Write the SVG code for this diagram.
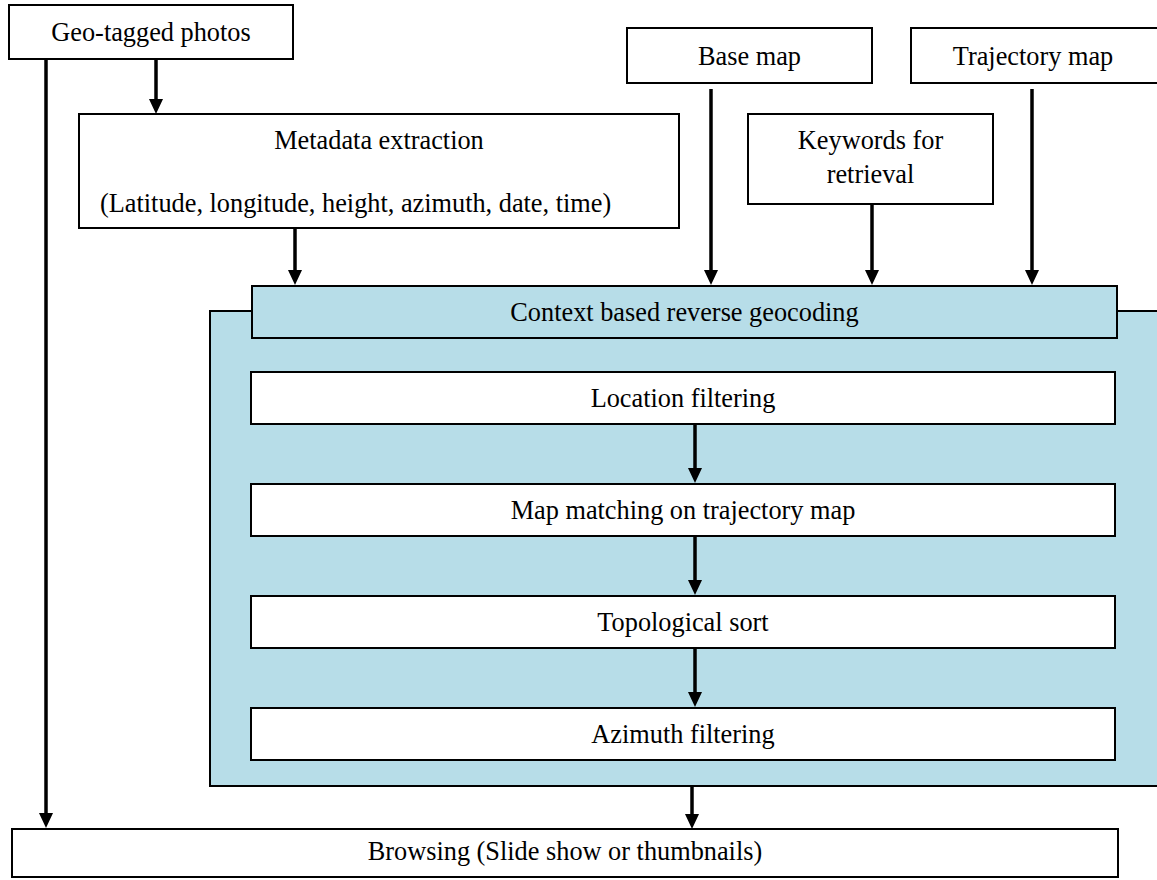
<svg xmlns="http://www.w3.org/2000/svg" width="1157" height="880" viewBox="0 0 1157 880">
<style>
.box{fill:#ffffff;stroke:#000000;stroke-width:2}
.blue{fill:#B7DDE8;stroke:#000000;stroke-width:2}
.t{font-family:"Liberation Serif","Times New Roman",serif;font-size:26.3px;fill:#000000;text-anchor:middle}
.c{stroke:#000000;stroke-width:3.5;fill:none;marker-end:url(#ah)}
</style>
<defs>
<marker id="ah" markerUnits="userSpaceOnUse" viewBox="0 0 15 14" refX="0" refY="7" markerWidth="15" markerHeight="14" orient="auto">
<path d="M0,0 L15,7 L0,14 Z" fill="#000000"/>
</marker>
</defs>
<rect width="1157" height="880" fill="#ffffff"/>
<g id="geo-tagged-photos"><rect class="box" x="9" y="5" width="284" height="54"/><text class="t" x="151" y="41">Geo-tagged photos</text></g>
<g id="base-map"><rect class="box" x="627" y="28" width="245" height="55"/><text class="t" x="749.5" y="65">Base map</text></g>
<g id="trajectory-map"><rect class="box" x="911" y="28" width="250" height="55"/><text class="t" x="1033" y="65">Trajectory map</text></g>
<g id="metadata-extraction"><rect class="box" x="79" y="114" width="600" height="114"/><text class="t" x="379" y="149">Metadata extraction</text><text class="t" x="100" y="212" style="text-anchor:start">(Latitude, longitude, height, azimuth, date, time)</text></g>
<g id="keywords"><rect class="box" x="748" y="114" width="245" height="90"/><text class="t" x="870.5" y="149">Keywords for</text><text class="t" x="870.5" y="183">retrieval</text></g>
<g id="context-container"><rect class="blue" x="210" y="311" width="960" height="475"/></g>
<g id="context-header"><rect class="blue" x="252" y="286" width="865" height="52"/><text class="t" x="684.5" y="321">Context based reverse geocoding</text></g>
<g id="location-filtering"><rect class="box" x="251" y="372" width="864" height="52"/><text class="t" x="683" y="407">Location filtering</text></g>
<g id="map-matching"><rect class="box" x="251" y="484" width="864" height="52"/><text class="t" x="683" y="519">Map matching on trajectory map</text></g>
<g id="topological-sort"><rect class="box" x="251" y="596" width="864" height="52"/><text class="t" x="683" y="631">Topological sort</text></g>
<g id="azimuth-filtering"><rect class="box" x="251" y="708" width="864" height="52"/><text class="t" x="683" y="743">Azimuth filtering</text></g>
<g id="browsing"><rect class="box" x="12" y="829" width="1106" height="48"/><text class="t" x="565" y="860">Browsing (Slide show or thumbnails)</text></g>
<g id="connectors">
<line class="c" x1="46" y1="60" x2="46" y2="813"/>
<line class="c" x1="156" y1="60" x2="156" y2="99"/>
<line class="c" x1="295" y1="229" x2="295" y2="270"/>
<line class="c" x1="711" y1="89" x2="711" y2="270"/>
<line class="c" x1="872" y1="205" x2="872" y2="270"/>
<line class="c" x1="1032" y1="89" x2="1032" y2="270"/>
<line class="c" x1="695" y1="425" x2="695" y2="468"/>
<line class="c" x1="695" y1="537" x2="695" y2="580"/>
<line class="c" x1="695" y1="649" x2="695" y2="692"/>
<line class="c" x1="692" y1="787" x2="692" y2="814"/>
</g>
</svg>
